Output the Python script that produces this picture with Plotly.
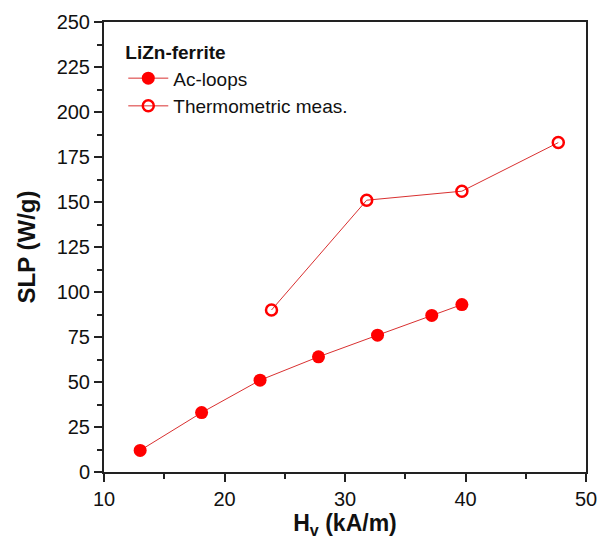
import plotly.graph_objects as go

ac_x = [13.0, 18.1, 22.95, 27.8, 32.7, 37.2, 39.7]
ac_y = [12, 33, 51, 64, 76, 87, 93]
th_x = [23.9, 31.8, 39.7, 47.7]
th_y = [90, 151, 156, 183]

FONT = "Liberation Sans, Arial"

fig = go.Figure()
fig.add_trace(go.Scatter(
    x=ac_x, y=ac_y, mode="lines+markers", name="Ac-loops",
    line=dict(color="#d93030", width=1),
    marker=dict(symbol="circle", size=13, color="#ff0000", line=dict(width=0)),
))
fig.add_trace(go.Scatter(
    x=th_x, y=th_y, mode="lines+markers", name="Thermometric meas.",
    line=dict(color="#d93030", width=1),
    marker=dict(symbol="circle-open", size=11, color="#ff0000", line=dict(width=2.5, color="#ff0000")),
))

axis_common = dict(
    showline=True, linecolor="#222", linewidth=2, mirror=True,
    ticks="outside", ticklen=8, tickwidth=1.5, tickcolor="#222",
    showgrid=False, zeroline=False, automargin=False,
    tickfont=dict(family=FONT, size=20, color="#111"),
)

fig.update_xaxes(
    range=[10, 50], tickvals=[10, 20, 30, 40, 50],
    minor=dict(tickvals=[15, 25, 35, 45], ticks="outside", ticklen=5, tickcolor="#222"),
    title=dict(text="<b>H<sub>v</sub> (kA/m)</b>", font=dict(family=FONT, size=23, color="#111"), standoff=4),
    **axis_common,
)
fig.update_yaxes(
    range=[0, 250], tickvals=list(range(0, 251, 25)),
    minor=dict(tickvals=[12.5 + 25 * i for i in range(10)], ticks="outside", ticklen=5, tickcolor="#222"),
    title=dict(text="<b>SLP (W/g)</b>", font=dict(family=FONT, size=24, color="#111"), standoff=14),
    **axis_common,
)

fig.update_layout(
    width=600, height=541,
    margin=dict(l=104, r=14, t=22, b=69, autoexpand=False),
    plot_bgcolor="white", paper_bgcolor="white",
    showlegend=True,
    legend=dict(
        x=0.04, y=0.972, xanchor="left", yanchor="top",
        bgcolor="rgba(0,0,0,0)",
        title=dict(text="<b>LiZn-ferrite</b>", font=dict(family=FONT, size=19, color="#111")),
        font=dict(family=FONT, size=19, color="#111"),
        itemwidth=40, tracegroupgap=0,
    ),
)

fig.write_html(
    "out.html",
    config={"displayModeBar": False},
    post_script="document.body.style.margin='0';document.body.style.overflow='hidden';",
)
